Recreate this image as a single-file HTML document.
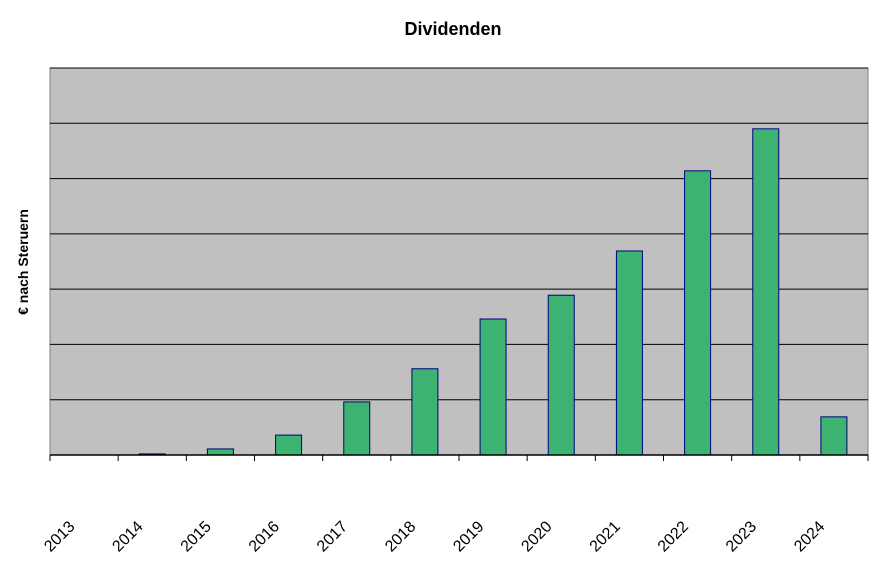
<!DOCTYPE html>
<html><head><meta charset="utf-8"><style>
body{margin:0;background:#fff;}
svg{display:block;font-family:"Liberation Sans",Arial,sans-serif;}
</style></head><body>
<svg id="chart" width="873" height="563" viewBox="0 0 873 563">
<rect x="0" y="0" width="873" height="563" fill="#fff"/>
<text x="453" y="35" text-anchor="middle" font-size="18" font-weight="bold">Dividenden</text>
<text transform="translate(28,262) rotate(-90)" text-anchor="middle" font-size="14" font-weight="bold">€ nach Steruern</text>
<rect x="50" y="68" width="818" height="387" fill="#c0c0c0" stroke="#808080" stroke-width="1"/>
<g id="grid"></g><g id="bars"></g><g id="axis"></g>
</svg>
<script>
const categories=["2013","2014","2015","2016","2017","2018","2019","2020","2021","2022","2023","2024"];
const values=[0,0.02,0.11,0.36,0.96,1.56,2.46,2.89,3.69,5.14,5.9,0.69];
const gridTicks=[1,2,3,4,5,6,7];
const NS="http://www.w3.org/2000/svg";
const X0=50,X1=868,Y0=455,Y1=68,YMAX=7;
const band=(X1-X0)/categories.length;
const y=v=>Y0-(v/YMAX)*(Y0-Y1);
const xc=i=>X0+band*(i+0.5);
function mk(t,a,p){const e=document.createElementNS(NS,t);for(const k in a)e.setAttribute(k,a[k]);p.appendChild(e);return e;}
const g=document.getElementById('grid'),b=document.getElementById('bars'),ax=document.getElementById('axis');
gridTicks.forEach(t=>{const l=mk('line',{x1:X0,x2:X1,y1:y(t),y2:y(t),stroke:'#000','stroke-width':1},g);

});
values.forEach((v,i)=>{if(v<=0)return;const r=mk('rect',{x:xc(i)-13,y:y(v),width:26,height:Y0-y(v),fill:'#3cb371',stroke:'#000080','stroke-width':1},b);

});
const al=mk('line',{x1:X0,x2:X1,y1:Y0,y2:Y0,stroke:'#000','stroke-width':1.5},ax);


for(let i=0;i<=categories.length;i++){const x=X0+band*i;const t=mk('line',{x1:x,x2:x,y1:Y0,y2:Y0+6,stroke:'#000'},ax);

}
categories.forEach((c,i)=>{const cx=xc(i)-21,cy=540;const t=mk('text',{x:cx,y:cy,'text-anchor':'middle','font-size':16,transform:`rotate(-45 ${cx} ${cy})`},ax);t.textContent=c;

});
</script>
</body></html>
